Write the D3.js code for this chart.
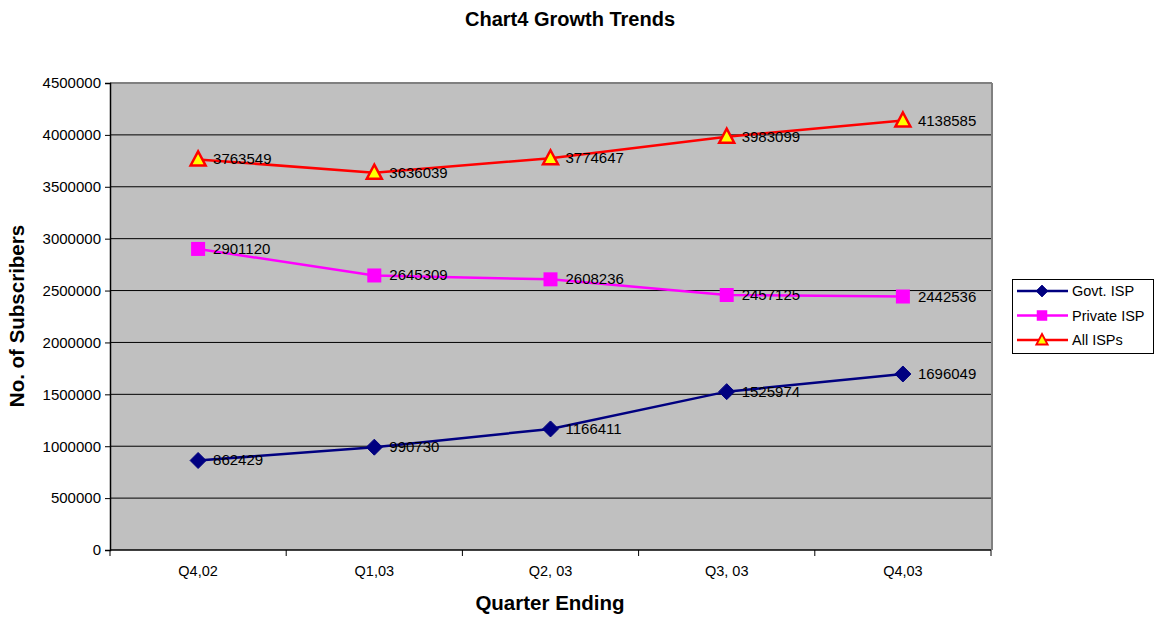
<!DOCTYPE html>
<html><head><meta charset="utf-8">
<script src="https://cdn.jsdelivr.net/npm/d3@7"></script>
<style>body{margin:0;background:#fff;}svg{display:block;font-family:Arial,"Liberation Sans",sans-serif;}</style>
</head><body>
<svg id="c" width="1156" height="619"></svg>
<script>
const categories = ["Q4,02","Q1,03","Q2, 03","Q3, 03","Q4,03"];
const govtISP = [862429, 990730, 1166411, 1525974, 1696049];
const privateISP = [2901120, 2645309, 2608236, 2457125, 2442536];
const allISPs = [3763549, 3636039, 3774647, 3983099, 4138585];
const yTicks = [0,500000,1000000,1500000,2000000,2500000,3000000,3500000,4000000,4500000];
const seriesNames = ["Govt. ISP","Private ISP","All ISPs"];

const svg = d3.select("#c");
const L=110,R=991,T=83,B=550;
const x = d3.scaleBand().domain(categories).range([L,R]);
const y = d3.scaleLinear().domain([0,4500000]).range([B,T]);

svg.append("rect").attr("x",L).attr("y",T).attr("width",R-L).attr("height",B-T).attr("fill","#c0c0c0");
svg.append("g").selectAll("line").data(yTicks.slice(1)).join("line")
  .attr("x1",L).attr("x2",R).attr("y1",d=>y(d)).attr("y2",d=>y(d)).attr("stroke","#000").attr("stroke-width",1);
svg.append("line").attr("x1",L).attr("x2",R+1).attr("y1",T).attr("y2",T).attr("stroke","#808080").attr("stroke-width",2);
svg.append("line").attr("x1",R+1).attr("x2",R+1).attr("y1",T).attr("y2",B).attr("stroke","#808080").attr("stroke-width",2);

const ya = svg.append("g").attr("transform",`translate(${L},0)`).call(d3.axisLeft(y).tickValues(yTicks).tickSize(5).tickPadding(4).tickFormat(d3.format("d")));
ya.selectAll("text").attr("font-size",15).attr("fill","#000").style("font-family","Arial, 'Liberation Sans', sans-serif");
ya.select(".domain").attr("stroke","#000").attr("stroke-width",1.5);
ya.selectAll(".tick line").attr("stroke","#000");

svg.append("line").attr("x1",L).attr("x2",R).attr("y1",B).attr("y2",B).attr("stroke","#000").attr("stroke-width",1.5);
const bounds = d3.range(categories.length+1).map(i=>L+i*x.bandwidth());
svg.append("g").selectAll("line").data(bounds).join("line")
  .attr("x1",d=>d).attr("x2",d=>d).attr("y1",B).attr("y2",B+6).attr("stroke","#000");
svg.append("g").selectAll("text").data(categories).join("text")
  .attr("x",d=>x(d)+x.bandwidth()/2).attr("y",B+26).attr("text-anchor","middle").attr("font-size",14.5).text(d=>d);

const cx = d=>x(d)+x.bandwidth()/2;
const series = [
  {name:seriesNames[0],vals:govtISP,color:"#000080",marker:"diamond"},
  {name:seriesNames[1],vals:privateISP,color:"#ff00ff",marker:"square"},
  {name:seriesNames[2],vals:allISPs,color:"#ff0000",marker:"triangle"}
];
function drawMarker(g,type,color){
  if(type==="diamond"){
    g.append("path").attr("d","M0,-8L8,0L0,8L-8,0Z").attr("fill",color).attr("stroke",color);
  } else if(type==="square"){
    g.append("rect").attr("x",-7).attr("y",-7).attr("width",14).attr("height",14).attr("fill",color);
  } else {
    g.append("path").attr("d","M0,-8L7.5,6L-7.5,6Z").attr("fill","#ffff00").attr("stroke",color).attr("stroke-width",2.5).attr("stroke-linejoin","miter");
  }
}
const line = d3.line();
series.forEach(s=>{
  const pts = categories.map((c,i)=>[cx(c),y(s.vals[i])]);
  svg.append("path").attr("d",line(pts)).attr("fill","none").attr("stroke",s.color).attr("stroke-width",2.5);
  pts.forEach((p,i)=>{
    const g = svg.append("g").attr("transform",`translate(${p[0]},${p[1]})`);
    drawMarker(g,s.marker,s.color);
    svg.append("text").attr("x",p[0]+15).attr("y",p[1]+5).attr("font-size",15).attr("fill","#000").text(s.vals[i]);
  });
});

svg.append("text").attr("x",570).attr("y",26).attr("text-anchor","middle").attr("font-size",20).attr("font-weight","bold").text("Chart4 Growth Trends");
svg.append("text").attr("x",550).attr("y",610).attr("text-anchor","middle").attr("font-size",20.5).attr("font-weight","bold").text("Quarter Ending");
svg.append("text").attr("transform","translate(24,316) rotate(-90)").attr("text-anchor","middle").attr("font-size",20.5).attr("font-weight","bold").text("No. of Subscribers");

const lg = svg.append("g");
lg.append("rect").attr("x",1012.5).attr("y",279.5).attr("width",141).attr("height",74).attr("fill","#fff").attr("stroke","#000");
series.forEach((s,i)=>{
  const yy = 291+i*24.5;
  lg.append("line").attr("x1",1017).attr("x2",1068).attr("y1",yy).attr("y2",yy).attr("stroke",s.color).attr("stroke-width",2.5);
  const g = lg.append("g").attr("transform",`translate(1042,${yy}) scale(0.75)`);
  drawMarker(g,s.marker,s.color);
  lg.append("text").attr("x",1072).attr("y",yy+5).attr("font-size",14.5).text(s.name);
});
</script>
</body></html>
